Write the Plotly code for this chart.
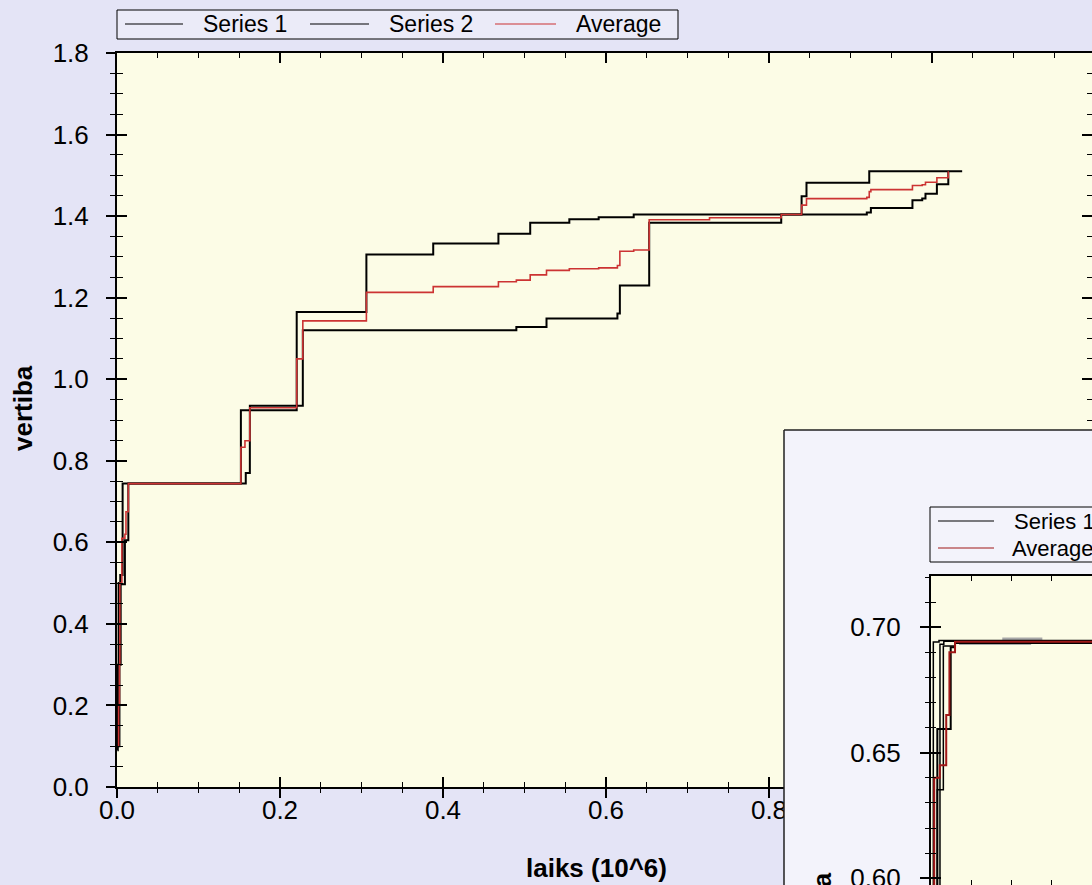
import plotly.graph_objects as go

# ---------------- data ----------------
# main chart: step series, x in units of 10^6
s1_x = [0.0005, 0.0010, 0.0020, 0.0040, 0.0069, 0.152, 0.2205, 0.306, 0.388, 0.468,
        0.507, 0.555, 0.591, 0.634, 0.840, 0.846, 0.923, 1.037]
s1_y = [0.09, 0.30, 0.50, 0.52, 0.744, 0.924, 1.165, 1.306, 1.333, 1.357,
        1.384, 1.392, 1.397, 1.404, 1.449, 1.482, 1.510, 1.510]

s2_x = [0.0010, 0.0030, 0.0045, 0.0097, 0.0139, 0.158, 0.163, 0.228, 0.490, 0.527,
        0.614, 0.617, 0.653, 0.815, 0.920, 0.925, 0.976, 0.988, 0.992, 1.006, 1.020]
s2_y = [0.10, 0.30, 0.497, 0.605, 0.744, 0.770, 0.935, 1.120, 1.128, 1.149,
        1.161, 1.230, 1.384, 1.404, 1.409, 1.420, 1.439, 1.443, 1.455, 1.478, 1.510]

avg_x = [0.0010, 0.0020, 0.0030, 0.0035, 0.0060, 0.0097, 0.0110, 0.0139, 0.152, 0.157,
         0.163, 0.2205, 0.228, 0.306, 0.388, 0.468, 0.490, 0.507, 0.527, 0.555,
         0.591, 0.614, 0.617, 0.634, 0.653, 0.727, 0.815, 0.840, 0.846, 0.920,
         0.923, 0.925, 0.976, 0.988, 0.992, 1.006, 1.020]
avg_y = [0.10, 0.20, 0.30, 0.50, 0.61, 0.62, 0.675, 0.744, 0.833, 0.849,
         0.930, 1.050, 1.143, 1.213, 1.227, 1.239, 1.243, 1.256, 1.267, 1.271,
         1.273, 1.279, 1.314, 1.317, 1.391, 1.396, 1.404, 1.427, 1.443, 1.446,
         1.460, 1.465, 1.475, 1.477, 1.483, 1.494, 1.510]

# inset window (zoom near the start)
in_a_x = [0.0001, 0.00029, 0.0010, 0.0201]
in_a_y = [0.55, 0.6941, 0.6947, 0.6947]
in_b_x = [0.0003, 0.00079, 0.00154, 0.0030, 0.0201]
in_b_y = [0.55, 0.6352, 0.6925, 0.6940, 0.6940]
in_c_x = [0.0002, 0.00079, 0.00246, 0.0030, 0.0201]
in_c_y = [0.55, 0.6594, 0.6920, 0.6937, 0.6937]
in_d_x = [0.0001, 0.00112, 0.0016, 0.0201]
in_d_y = [0.55, 0.6932, 0.6944, 0.6944]
in_avg_x = [0.0001, 0.0004, 0.0011, 0.0019, 0.0023, 0.0030, 0.0201]
in_avg_y = [0.55, 0.640, 0.645, 0.665, 0.690, 0.6942, 0.6942]
in_g1_x = [0.0089, 0.0139]
in_g1_y = [0.6953, 0.6953]
in_g2_x = [0.0035, 0.0125]
in_g2_y = [0.6935, 0.6935]

legend_names = ["Series 1", "Series 2", "Average"]
x_title = "laiks (10^6)"
y_title = "vertiba"

# ---------------- layout helpers ----------------
W, H = 1092, 885
def fx(px):
    return px / W
def fy(py):
    return 1 - py / H

FONT = "Liberation Sans, Arial, sans-serif"
BLACK = "#000000"
RED = "#CC3333"
DRED = "#A01818"

fig = go.Figure()

# main traces
fig.add_trace(go.Scatter(x=s1_x, y=s1_y, mode="lines", line=dict(color=BLACK, width=2, shape="hv"),
                         name=legend_names[0], xaxis="x", yaxis="y", showlegend=False))
fig.add_trace(go.Scatter(x=s2_x, y=s2_y, mode="lines", line=dict(color=BLACK, width=2, shape="hv"),
                         name=legend_names[1], xaxis="x", yaxis="y", showlegend=False))
fig.add_trace(go.Scatter(x=avg_x, y=avg_y, mode="lines", line=dict(color=RED, width=1.6, shape="hv"),
                         name=legend_names[2], xaxis="x", yaxis="y", showlegend=False))

# empty traces so that the overlay axes (extra tick halves / labels) get drawn
for xa, ya in [("x4", "y"), ("x", "y4"), ("x", "y5")]:
    fig.add_trace(go.Scatter(x=[], y=[], mode="lines", xaxis=xa, yaxis=ya, showlegend=False,
                             hoverinfo="skip"))

# inset traces
for xs, ys, col, w in [(in_g2_x, in_g2_y, "#A8A8A8", 3), (in_g1_x, in_g1_y, "#A8A8A8", 3),
                       (in_a_x, in_a_y, BLACK, 1.5), (in_b_x, in_b_y, BLACK, 1.5),
                       (in_c_x, in_c_y, BLACK, 2), (in_d_x, in_d_y, BLACK, 1.5),
                       (in_avg_x, in_avg_y, DRED, 2)]:
    fig.add_trace(go.Scatter(x=xs, y=ys, mode="lines", line=dict(color=col, width=w, shape="hv"),
                             xaxis="x3", yaxis="y3", showlegend=False))
fig.add_trace(go.Scatter(x=[], y=[], mode="lines", xaxis="x3", yaxis="y6", showlegend=False,
                         hoverinfo="skip"))

tickfont = dict(family=FONT, size=26, color=BLACK)
common = dict(showgrid=False, zeroline=False, linecolor=BLACK, tickcolor=BLACK, fixedrange=True,
              automargin=False)

main_xr = [0, (W - 117) / 815.0]
main_yr = [0, 1.8]
in_xr = [0, 0.0201]
in_yr = [0.5973, 0.7204]

fig.update_layout(
    template="none",
    width=W, height=H, autosize=False,
    margin=dict(l=0, r=0, t=0, b=0, pad=0, autoexpand=False),
    paper_bgcolor="#E4E4F6",
    plot_bgcolor="#FCFCE6",
    showlegend=False,
    font=dict(family=FONT, color=BLACK),
    # ---- main chart ----
    xaxis=dict(domain=[fx(117), 1.0], range=main_xr, anchor="y", showline=True, linewidth=1.5,
               ticks="inside", ticklen=10, tickwidth=1.5, tick0=0, dtick=0.2, mirror="ticks",
               minor=dict(ticks="inside", ticklen=5, dtick=0.05, tickcolor=BLACK, tickwidth=1),
               showticklabels=False, **common),
    xaxis4=dict(overlaying="x", anchor="y", side="bottom", range=main_xr, showline=False,
                ticks="outside", ticklen=10, tickwidth=1.5, tick0=0, dtick=0.2,
                minor=dict(ticks="outside", ticklen=5, dtick=0.05, tickcolor=BLACK, tickwidth=1),
                showticklabels=True, tickformat=".1f", tickfont=tickfont, ticklabelstandoff=-10, **common),
    yaxis=dict(domain=[fy(787), fy(53)], range=main_yr, anchor="x", showline=True, linewidth=1.5,
               ticks="inside", ticklen=10, tickwidth=1.5, tick0=0, dtick=0.2,
               minor=dict(ticks="inside", ticklen=6, dtick=0.05, tickcolor=BLACK, tickwidth=1),
               showticklabels=False, **common),
    yaxis4=dict(overlaying="y", anchor="x", side="left", range=main_yr, showline=False,
                ticks="outside", ticklen=10, tickwidth=1.5, tick0=0, dtick=0.2,
                minor=dict(ticks="outside", ticklen=6, dtick=0.05, tickcolor=BLACK, tickwidth=1),
                showticklabels=True, tickformat=".1f", tickfont=tickfont, ticklabelstandoff=12, **common),
    yaxis5=dict(overlaying="y", anchor="x", side="right", range=main_yr, showline=False,
                ticks="inside", ticklen=10, tickwidth=1.5, tick0=0, dtick=0.2,
                minor=dict(ticks="inside", ticklen=5, dtick=0.05, tickcolor=BLACK, tickwidth=1),
                showticklabels=False, **common),
    # ---- inset window (background only) ----
    xaxis2=dict(domain=[fx(784), 1.0], range=[0, 1], anchor="y2", visible=False, fixedrange=True,
                automargin=False),
    yaxis2=dict(domain=[0, fy(430)], range=[0, 1], anchor="x2", visible=False, fixedrange=True,
                automargin=False),
    # ---- inset plot ----
    xaxis3=dict(domain=[fx(931), 1.0], range=in_xr, anchor="y3", showline=True, linewidth=1.5,
                ticks="inside", ticklen=9, tickwidth=1.5, tick0=0, dtick=0.02, mirror="ticks",
                minor=dict(ticks="inside", ticklen=5, dtick=0.005, tickcolor=BLACK, tickwidth=1),
                showticklabels=False, **common),
    yaxis3=dict(domain=[0, fy(576)], range=in_yr, anchor="x3", showline=True, linewidth=1.5,
                ticks="inside", ticklen=10, tickwidth=1.5, tick0=0, dtick=0.05,
                minor=dict(ticks="inside", ticklen=5, dtick=0.01, tickcolor=BLACK, tickwidth=1),
                showticklabels=False, **common),
    yaxis6=dict(overlaying="y3", anchor="x3", side="left", range=in_yr, showline=False,
                ticks="outside", ticklen=10, tickwidth=1.5, tick0=0, dtick=0.05,
                minor=dict(ticks="outside", ticklen=5, dtick=0.01, tickcolor=BLACK, tickwidth=1),
                showticklabels=True, tickformat=".2f", tickfont=tickfont, ticklabelstandoff=14,
                ticklabeloverflow="allow", **common),
)

shapes = []
# inset window background (drawn in the window subplot, above the main chart)
shapes.append(dict(type="rect", xref="x2", yref="y2", x0=0, x1=1, y0=0, y1=1, layer="below",
                   fillcolor="#F3F3FB", line=dict(width=0)))
# inset window border (left and top edges)
shapes.append(dict(type="line", xref="paper", yref="paper", x0=fx(784), x1=fx(784), y0=fy(430), y1=fy(H + 5),
                   line=dict(color="#202020", width=1.5), layer="above"))
shapes.append(dict(type="line", xref="paper", yref="paper", x0=fx(784), x1=fx(W + 5), y0=fy(430), y1=fy(430),
                   line=dict(color="#202020", width=1.5), layer="above"))

# main legend box
LEG_Y = 24
shapes.append(dict(type="rect", xref="paper", yref="paper", x0=fx(117), x1=fx(678), y0=fy(39), y1=fy(10),
                   fillcolor="rgba(255,255,255,0.25)", line=dict(color=BLACK, width=1), layer="above"))
leg_cols = [BLACK, BLACK, RED]
leg_line_x = [(125, 183), (310, 369), (495, 556)]
leg_text_x = [201, 387, 574]
for (a, b), c in zip(leg_line_x, leg_cols):
    shapes.append(dict(type="line", xref="paper", yref="paper", x0=fx(a), x1=fx(b), y0=fy(LEG_Y), y1=fy(LEG_Y),
                       line=dict(color=c, width=1.2), layer="above"))

# inset legend box
shapes.append(dict(type="rect", xref="paper", yref="paper", x0=fx(930), x1=fx(W + 40), y0=fy(562), y1=fy(507),
                   fillcolor="rgba(255,255,255,0)", line=dict(color=BLACK, width=1), layer="above"))
for yy, c in [(521, BLACK), (548, DRED)]:
    shapes.append(dict(type="line", xref="paper", yref="paper", x0=fx(938), x1=fx(994), y0=fy(yy), y1=fy(yy),
                       line=dict(color=c, width=1.2), layer="above"))

annotations = []
for name, tx in zip(legend_names, leg_text_x):
    annotations.append(dict(text=name, xref="paper", yref="paper", x=fx(tx), y=fy(LEG_Y), xanchor="left",
                            yanchor="middle", showarrow=False, font=dict(family=FONT, size=23, color=BLACK)))
for name, tx, yy in [(legend_names[0], 1012, 521), (legend_names[2], 1010, 548)]:
    annotations.append(dict(text=name, xref="paper", yref="paper", x=fx(tx), y=fy(yy), xanchor="left",
                            yanchor="middle", showarrow=False, font=dict(family=FONT, size=22, color=BLACK)))

annotations.append(dict(text="<b>%s</b>" % x_title, xref="paper", yref="paper", x=fx(596), y=fy(868),
                        xanchor="center", yanchor="middle", showarrow=False,
                        font=dict(family=FONT, size=26, color=BLACK)))
annotations.append(dict(text="<b>%s</b>" % y_title, xref="paper", yref="paper", x=fx(23), y=fy(408),
                        xanchor="center", yanchor="middle", showarrow=False, textangle=-90,
                        font=dict(family=FONT, size=26, color=BLACK)))
annotations.append(dict(text="<b>%s</b>" % y_title, xref="paper", yref="paper", x=fx(822), y=fy(915),
                        xanchor="center", yanchor="middle", showarrow=False, textangle=-90,
                        font=dict(family=FONT, size=26, color=BLACK)))

fig.update_layout(shapes=shapes, annotations=annotations)
fig.write_html("out.html")
